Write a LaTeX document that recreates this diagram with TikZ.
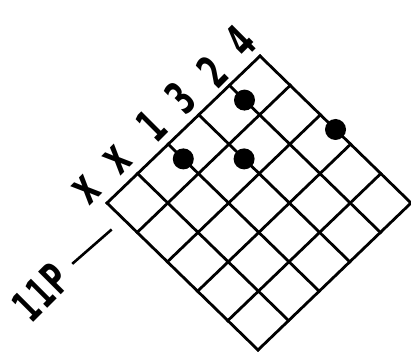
\documentclass[tikz,border=0pt]{standalone}
\usepackage{fontspec}
\newfontfamily\hand[FakeStretch=0.6]{DejaVu Sans}
\begin{document}
\begin{tikzpicture}[
  gridline/.style={line width=2.8pt, line join=miter, line cap=rect},
  fingerdot/.style={circle, fill=black, inner sep=0pt, minimum size=21pt},
  lbl/.style={font=\hand\bfseries\fontsize{46}{46}\selectfont, inner sep=0pt, rotate=45},
  mutelbl/.style={font=\hand\bfseries\fontsize{50}{50}\selectfont, inner sep=0pt, rotate=45},
  fretlbl/.style={font=\hand\bfseries\fontsize{44}{44}\selectfont, inner sep=0pt, rotate=45}
]
\useasboundingbox (0pt,0pt) rectangle (411pt,353pt);
\begin{scope}[shift={(107pt,150pt)}, x={(30.6pt,29.4pt)}, y={(30.2pt,-29.4pt)}]
  % strings (from nut to last fret) and frets
  \foreach \i in {0,...,5} {
    \draw[gridline] (\i,0) -- (\i,5);
    \draw[gridline] (0,\i) -- (5,\i);
  }
  % finger dots
  \node[fingerdot] (d1) at (2,0.5) {};
  \node[fingerdot] (d2) at (3,1.5) {};
  \node[fingerdot] (d3) at (4,0.5) {};
  \node[fingerdot] (d4) at (5,2.5) {};
  % string labels
  \node[mutelbl] (s0) at (-0.12,-0.55) {x};
  \node[mutelbl] (s1) at (0.9,-0.57) {x};
  \node[lbl] (s2) at (2.04,-0.6) {1};
  \node[lbl] (s3) at (2.98,-0.6) {3};
  \node[lbl] (s4) at (3.94,-0.52) {2};
  \node[lbl] (s5) at (4.94,-0.58) {4};
  % fret position
  \node[fretlbl] (pos) at (-2.6,0.45) {1\kern1.5pt1\kern1.5pt P};
  \coordinate (m1) at (-1.6,0.47);
  \coordinate (m2) at (-0.37,0.53);
  \draw[line width=2.6pt] (m1) -- (m2);
\end{scope}
\end{tikzpicture}
\end{document}
